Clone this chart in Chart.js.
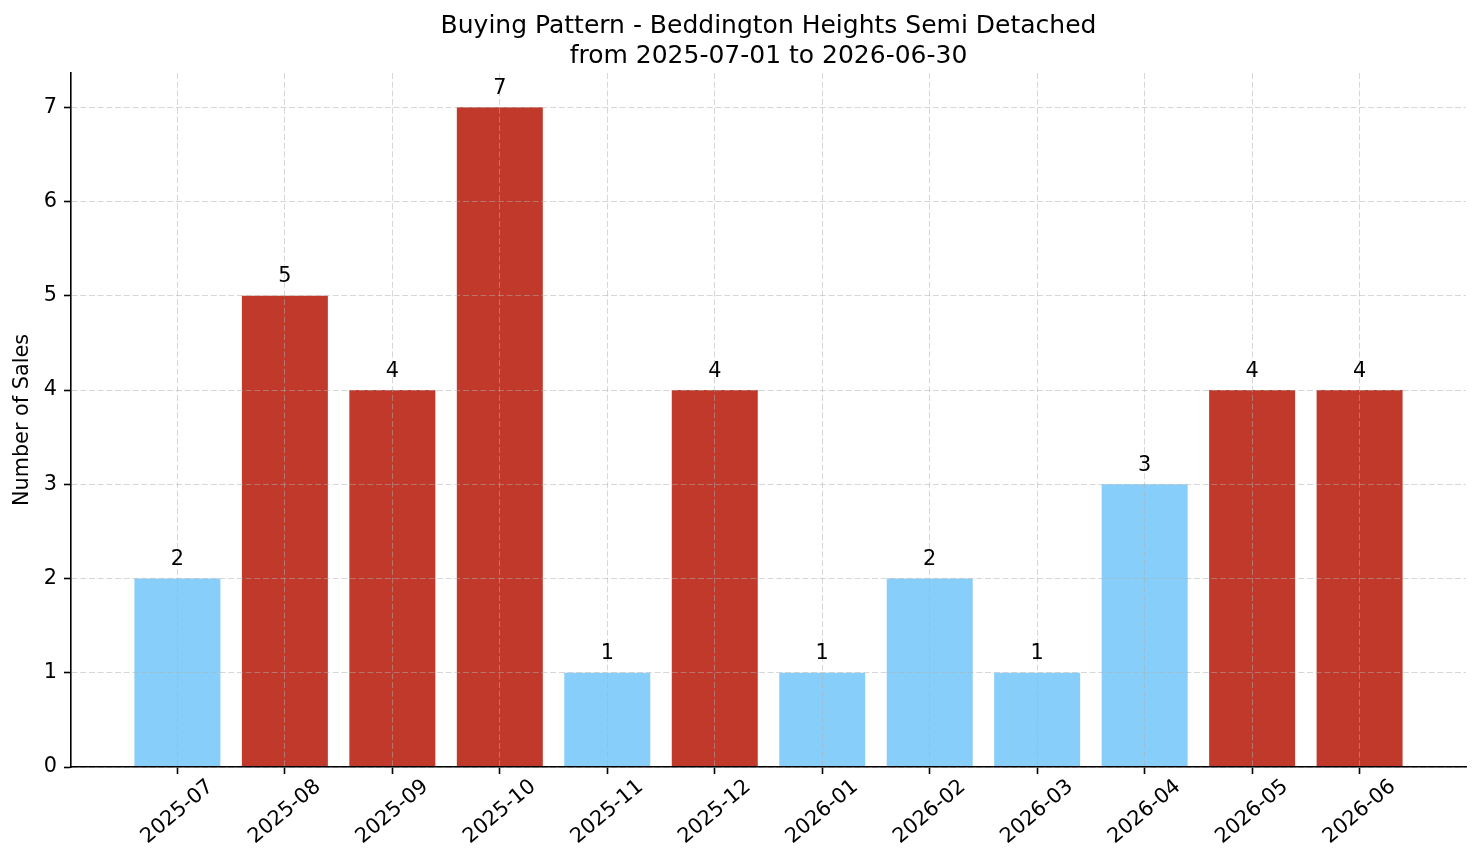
<!DOCTYPE html>
<html>
<head>
<meta charset="utf-8">
<script src="https://cdn.jsdelivr.net/npm/chart.js@4.4.0/dist/chart.umd.min.js"></script>
<style>
html,body{margin:0;padding:0;background:#fff;}
#wrap{width:1481px;height:863px;position:relative;}
canvas{display:block;}
</style>
</head>
<body>
<div id="wrap"><canvas id="c" width="1481" height="863"></canvas></div>
<script>
// ---- data ----
const months = ['2025-07','2025-08','2025-09','2025-10','2025-11','2025-12','2026-01','2026-02','2026-03','2026-04','2026-05','2026-06'];
const sales = [2,5,4,7,1,4,1,2,1,3,4,4];
const yTicks = [0,1,2,3,4,5,6,7];
const titleLines = ['Buying Pattern - Beddington Heights Semi Detached','from 2025-07-01 to 2026-06-30'];
const yAxisLabel = 'Number of Sales';

// ---- styles ----
const RED = '#c0392b';
const BLUE = '#87cefa';
const FONT = "'DejaVu Sans', 'Liberation Sans', sans-serif";
const BASE = 20.8;
const TITLE_SIZE = 25;
const GRID = 'rgba(176,176,176,0.5)';

const mean = sales.reduce((a,b)=>a+b,0) / sales.length;
const colors = sales.map(v => v > mean ? RED : BLUE);

const lo = -0.4, hi = months.length - 1 + 0.4;
const padX = 0.05 * (hi - lo);
const yMax = Math.max(...sales) * 1.052;

const points = sales.map((v, i) => ({x: i, y: v}));

const overlay = {
  id: 'overlay',
  afterDraw(chart) {
    const ctx = chart.ctx;
    const xs = chart.scales.x, ys = chart.scales.y;
    const area = chart.chartArea;
    ctx.save();
    ctx.fillStyle = '#000';
    // title
    ctx.font = TITLE_SIZE + 'px ' + FONT;
    ctx.textAlign = 'center';
    ctx.textBaseline = 'alphabetic';
    const cx = (area.left + area.right) / 2;
    ctx.fillText(titleLines[0], cx, 33);
    ctx.fillText(titleLines[1], cx, 63);
    // value labels
    ctx.font = BASE + 'px ' + FONT;
    sales.forEach((v, i) => {
      const px = xs.getPixelForValue(i);
      const py = ys.getPixelForValue(v + 0.1) - 4;
      ctx.fillText(String(v), px, py);
    });
    // x tick labels, rotated 40deg, centred under tick
    ctx.textAlign = 'center';
    ctx.textBaseline = 'middle';
    months.forEach((m, i) => {
      const px = xs.getPixelForValue(i);
      ctx.save();
      ctx.translate(px, area.bottom + 45);
      ctx.rotate(-40 * Math.PI / 180);
      ctx.fillText(m, 0, 0);
      ctx.restore();
    });
    // y axis label
    ctx.save();
    ctx.translate(23, (area.top + area.bottom) / 2);
    ctx.rotate(-Math.PI / 2);
    ctx.textAlign = 'center';
    ctx.textBaseline = 'middle';
    ctx.fillText(yAxisLabel, 0, 0);
    ctx.restore();
    ctx.restore();
  }
};

new Chart(document.getElementById('c'), {
  type: 'bar',
  data: {
    datasets: [{
      data: points,
      backgroundColor: colors,
      borderWidth: 0,
      barPercentage: 0.8,
      categoryPercentage: 1.0
    }]
  },
  options: {
    responsive: false,
    animation: false,
    devicePixelRatio: 1,
    layout: { padding: { top: 73, right: 15, left: 0, bottom: 0 } },
    plugins: { legend: { display: false }, title: { display: false }, tooltip: { enabled: false } },
    scales: {
      x: {
        type: 'linear',
        offset: false,
        min: lo - padX,
        max: hi + padX,
        afterBuildTicks(scale) { scale.ticks = months.map((_, i) => ({value: i})); },
        afterFit(scale) { scale.height = 96; },
        ticks: { display: false },
        grid: {
          z: 1,
          offset: false,
          color: GRID, lineWidth: 1,
          drawTicks: true, tickLength: 7, tickColor: '#000', tickWidth: 1.6, tickBorderDash: []
        },
        border: { display: true, color: '#000', width: 1.6, dash: [6, 2.7], z: 2 }
      },
      y: {
        type: 'linear',
        min: 0,
        max: yMax,
        afterBuildTicks(scale) { scale.ticks = yTicks.map(v => ({value: v})); },
        afterFit(scale) { scale.width = 71; },
        ticks: { color: '#000', font: { family: FONT, size: BASE }, padding: 7 },
        grid: {
          z: 1,
          color: GRID, lineWidth: 1,
          drawTicks: true, tickLength: 7, tickColor: '#000', tickWidth: 1.6, tickBorderDash: []
        },
        border: { display: true, color: '#000', width: 1.6, dash: [6, 2.7], z: 2 }
      }
    }
  },
  plugins: [overlay]
});
</script>
</body>
</html>
